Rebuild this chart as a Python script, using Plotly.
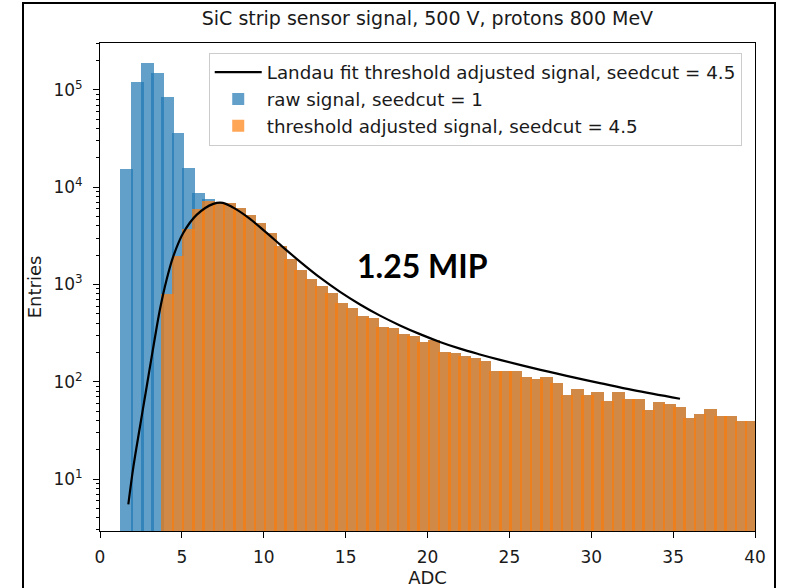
import plotly.graph_objects as go

# ---------------- data ----------------
bin_width = 0.625
raw_first_edge = 1.25          # left edge of first raw-signal bin
thr_first_edge = 3.75          # left edge of first threshold-adjusted bin

# raw signal, seedcut = 1 (bins where it differs from the adjusted signal)
raw_counts_low = [15400, 122000, 188000, 148000, 84000, 36000, 15700, 8700, 7500]

# threshold adjusted signal, seedcut = 4.5
thr_counts = [800, 1950, 3730, 6000, 7300, 6950, 6900, 6100, 5200, 4300,
              3400, 2500, 1850, 1400, 1145, 960, 810, 650, 577, 472,
              455, 362, 355, 313, 294, 255, 272, 201, 199, 186,
              176, 163, 129, 130, 128, 111, 106, 111, 98, 74,
              85, 74, 79, 64, 79, 67, 67, 51, 62, 59,
              55, 42, 47, 53, 44, 44, 40, 40]

# Landau fit curve
fit_adc = [1.73, 2.04, 2.44, 2.85, 3.26, 3.66, 4.07, 4.48, 5.09, 5.90,
           6.92, 7.5, 8.14, 9.16, 10.18, 11.0, 12.21, 13.44, 14.66, 15.88,
           17.1, 18.32, 19.54, 20.76, 21.98, 23.2, 24.43, 26.46, 28.5, 30.53,
           32.57, 35.42]
fit_val = [5.5, 13.4, 34.5, 89, 229, 553, 1125, 1955, 3400, 5200,
           6750, 6920, 6170, 4730, 3390, 2570, 1720, 1175, 841, 624,
           479, 380, 309, 257, 219, 191, 168, 138, 115, 97,
           82, 67]

x_ticks = [0, 5, 10, 15, 20, 25, 30, 35, 40]
y_ticks = [10, 100, 1000, 10000, 100000]
y_ticktext = ["10<sup>1</sup>", "10<sup>2</sup>", "10<sup>3</sup>", "10<sup>4</sup>", "10<sup>5</sup>"]

# ---------------- derived ----------------
# above the raw-only region the raw histogram coincides with the adjusted one
raw_counts = raw_counts_low + thr_counts[len(raw_counts_low) - 4:]
raw_edges = [raw_first_edge + i * bin_width for i in range(len(raw_counts))]
thr_edges = [thr_first_edge + i * bin_width for i in range(len(thr_counts))]

minor_vals = [m * 10 ** e for e in range(0, 6) for m in range(2, 10)]

FONT = "DejaVu Sans"
blue = "rgba(31,119,180,0.7)"
orange = "rgba(255,127,14,0.7)"

fig = go.Figure()
fig.add_trace(go.Bar(x=raw_edges, y=raw_counts, width=bin_width * 1.25, offset=0,
                     marker=dict(color=blue, line=dict(width=0)),
                     name="raw signal, seedcut = 1", legendrank=2))
fig.add_trace(go.Bar(x=thr_edges, y=thr_counts, width=bin_width * 1.25, offset=0,
                     marker=dict(color=orange, line=dict(width=0)),
                     name="threshold adjusted signal, seedcut = 4.5", legendrank=3))
fig.add_trace(go.Scatter(x=fit_adc, y=fit_val, mode="lines",
                         line=dict(color="black", width=2.2, shape="spline", smoothing=1.0),
                         name="Landau fit threshold adjusted signal, seedcut = 4.5",
                         legendrank=1))

fig.update_layout(
    width=786, height=588,
    margin=dict(l=100, r=31, t=43, b=57, autoexpand=False),
    paper_bgcolor="white", plot_bgcolor="white",
    barmode="overlay", bargap=0,
    font=dict(family=FONT, size=17, color="#1a1a1a"),
    title=dict(text="SiC strip sensor signal, 500 V, protons 800 MeV",
               x=0.5438, xanchor="center", y=1 - 18 / 588, yanchor="middle",
               font=dict(family=FONT, size=19, color="#1a1a1a")),
    legend=dict(x=0.166, y=0.98, xanchor="left", yanchor="top",
                bgcolor="rgba(255,255,255,0.85)", bordercolor="#cccccc", borderwidth=1,
                font=dict(family=FONT, size=18.3, color="#1a1a1a"),
                itemwidth=47, tracegroupgap=2),
    showlegend=True,
)

fig.update_xaxes(range=[0, 40], tickvals=x_ticks, ticks="outside", ticklen=6,
                 tickcolor="black", showline=True, linecolor="black", linewidth=1,
                 mirror=True, showgrid=False, zeroline=False, automargin=False,
                 tickfont=dict(size=17), ticklabelstandoff=5,
                 title=dict(text="ADC", font=dict(size=18), standoff=7))
fig.update_yaxes(type="log", range=[0.466, 5.483], tickvals=y_ticks, ticktext=y_ticktext,
                 ticks="outside", ticklen=6, tickcolor="black", showline=True,
                 linecolor="black", linewidth=1, mirror=True, showgrid=False,
                 zeroline=False, automargin=False, tickfont=dict(size=17), ticklabelstandoff=7,
                 minor=dict(tickvals=minor_vals, ticks="outside", ticklen=3.5,
                            tickcolor="black", showgrid=False),
                 title=dict(text="Entries", font=dict(size=18), standoff=7))

fig.add_annotation(x=19.7, y=3.195, xref="x", yref="y", text="<b>1.25 MIP</b>",
                   showarrow=False, font=dict(family="Lato", size=32, color="black"))

# screenshot frame around the figure
fig.add_shape(type="rect", xref="paper", yref="paper",
              x0=(23 - 100) / 655, x1=(775 - 100) / 655,
              y0=-0.2, y1=(531 - 3) / 488,
              line=dict(color="black", width=2), fillcolor="rgba(0,0,0,0)", layer="above")

fig.write_html("out.html")
